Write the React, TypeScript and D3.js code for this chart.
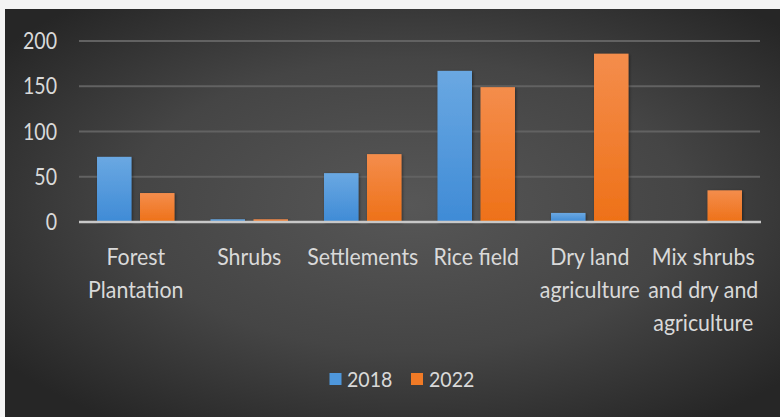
import React from "react";
import * as d3 from "d3";

const categories = [
  ["Forest", "Plantation"],
  ["Shrubs"],
  ["Settlements"],
  ["Rice field"],
  ["Dry land", "agriculture"],
  ["Mix shrubs", "and dry and", "agriculture"],
];
const seriesNames = ["2018", "2022"];
const values2018 = [72, 3, 54, 167, 10, 1];
const values2022 = [32, 3, 75, 149, 186, 35];
const yTicks = [0, 50, 100, 150, 200];

const W = 780;
const H = 417;
const FONT = "Lato, 'Open Sans', sans-serif";
const TXT = "#d9d9d9";

function Txt({ x, y, anchor = "start", size, sx, children }: any) {
  return (
    <text
      transform={`translate(${x},${y}) scale(${sx},1)`}
      textAnchor={anchor}
      fill={TXT}
      fontFamily={FONT}
      fontSize={size}
    >
      {children}
    </text>
  );
}

export default function App() {
  const keys = categories.map((c) => c.join(" "));
  const x0 = d3.scaleBand<string>().domain(keys).range([79, 760]).paddingInner(0).paddingOuter(0);
  const x1 = d3
    .scaleBand<string>()
    .domain(seriesNames)
    .range([0, x0.bandwidth()])
    .paddingInner(0.198)
    .paddingOuter(0.419);
  const y = d3.scaleLinear().domain([0, 200]).range([222, 41]);
  const series = [
    { name: "2018", values: values2018, fill: "url(#gBlue)", solid: "#4e97dc" },
    { name: "2022", values: values2022, fill: "url(#gOrange)", solid: "#f07a26" },
  ];

  return (
    <svg width={W} height={H} style={{ position: "absolute", left: 0, top: 0 }}>
      <defs>
        <radialGradient id="bg" cx="52%" cy="48%" r="65%">
          <stop offset="0%" stopColor="#575757" />
          <stop offset="55%" stopColor="#454545" />
          <stop offset="100%" stopColor="#262626" />
        </radialGradient>
        <linearGradient id="gBlue" x1="0" y1="0" x2="0" y2="1">
          <stop offset="0%" stopColor="#6aa8e2" />
          <stop offset="100%" stopColor="#3f8bd6" />
        </linearGradient>
        <linearGradient id="gOrange" x1="0" y1="0" x2="0" y2="1">
          <stop offset="0%" stopColor="#f48d4c" />
          <stop offset="100%" stopColor="#ee7118" />
        </linearGradient>
        <filter id="shadow" x="-20%" y="-20%" width="140%" height="140%">
          <feDropShadow dx="1" dy="1" stdDeviation="1.5" floodColor="#000" floodOpacity="0.45" />
        </filter>
      </defs>
      <rect x={0} y={0} width={W} height={H} fill="#f3f3f3" />
      <rect x={5} y={9} width={W - 5} height={H - 9} fill="url(#bg)" />
      {yTicks.slice(1).map((t) => (
        <line key={t} x1={79} x2={760} y1={y(t)} y2={y(t)} stroke="#626262" strokeWidth={2} />
      ))}
      {yTicks.map((t) => (
        <Txt key={"l" + t} x={57} y={y(t) + 8} anchor="end" size={23} sx={0.85}>
          {t}
        </Txt>
      ))}
      {keys.map((k, i) => (
        <g key={k} transform={`translate(${x0(k)},0)`}>
          {series.map((s) => (
            <rect
              key={s.name}
              x={x1(s.name)}
              y={y(s.values[i])}
              width={x1.bandwidth()}
              height={y(0) - y(s.values[i])}
              fill={s.fill}
              filter="url(#shadow)"
            />
          ))}
        </g>
      ))}
      <line x1={79} x2={761} y1={y(0)} y2={y(0)} stroke="#c8c8c8" strokeWidth={2.5} />
      {categories.map((lines, i) =>
        lines.map((ln, j) => (
          <Txt
            key={"c" + i + "-" + j}
            x={(x0(keys[i]) as number) + x0.bandwidth() / 2}
            y={265 + j * 33}
            anchor="middle"
            size={24}
            sx={0.89}
          >
            {ln}
          </Txt>
        ))
      )}
      <g>
        <rect x={329.5} y={373} width={12} height={12} fill={series[0].solid} />
        <Txt x={347} y={387} size={22} sx={0.89}>
          {seriesNames[0]}
        </Txt>
        <rect x={411} y={373} width={12} height={12} fill={series[1].solid} />
        <Txt x={429} y={387} size={22} sx={0.89}>
          {seriesNames[1]}
        </Txt>
      </g>
    </svg>
  );
}
